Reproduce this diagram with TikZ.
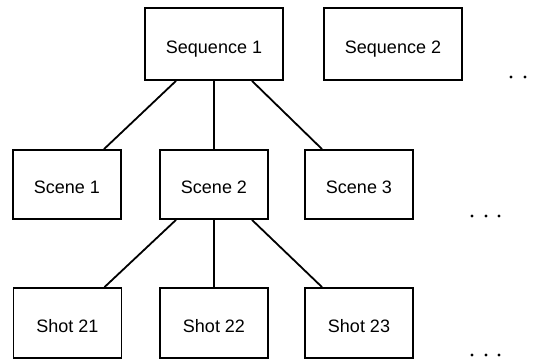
\documentclass[tikz,border=0pt]{standalone}
\usepackage{fontspec}
\setmainfont{Liberation Sans}
\begin{document}
\begin{tikzpicture}[x=1pt,y=-1pt,
  box/.style={draw=black, line width=1.8pt, rectangle, inner sep=0pt,
    font=\fontsize{18pt}{20pt}\selectfont, text height=18pt, text depth=0pt},
  seqbox/.style={box, minimum width=138pt, minimum height=72pt},
  itembox/.style={box, minimum width=108pt, minimum height=69pt},
  link/.style={draw=black, line width=1.8pt},
  dot/.style={fill=black}]
\useasboundingbox (0,0) rectangle (534,359);

% sequences
\node[seqbox] (seq1) at (214,44) {Sequence 1};
\node[seqbox] (seq2) at (393,44) {Sequence 2};

% scenes of sequence 1
\node[itembox] (sc1) at (67,184.5) {Scene 1};
\node[itembox] (sc2) at (214,184.5) {Scene 2};
\node[itembox] (sc3) at (359,184.5) {Scene 3};

% shots of scene 2
\node[itembox, minimum height=70pt] (sh21) at (67.5,323) {Shot 21};
\node[itembox, minimum height=70pt] (sh22) at (214,323) {Shot 22};
\node[itembox, minimum height=70pt] (sh23) at (359,323) {Shot 23};

% tree links
\draw[link] ([xshift=-38pt]seq1.south) -- ([xshift=37pt]sc1.north);
\draw[link] (seq1.south) -- (sc2.north);
\draw[link] ([xshift=38pt]seq1.south) -- ([xshift=-37pt]sc3.north);
\draw[link] ([xshift=-38pt]sc2.south) -- ([xshift=37pt]sh21.north);
\draw[link] (sc2.south) -- (sh22.north);
\draw[link] ([xshift=38pt]sc2.south) -- ([xshift=-37pt]sh23.north);

% ellipses for further items
\foreach \x in {511,525} \fill[dot] (\x,77) circle (1.7pt);
\foreach \x in {472,486,499} \fill[dot] (\x,216) circle (1.7pt);
\foreach \x in {472,486,499} \fill[dot] (\x,355) circle (1.7pt);
\end{tikzpicture}
\end{document}
